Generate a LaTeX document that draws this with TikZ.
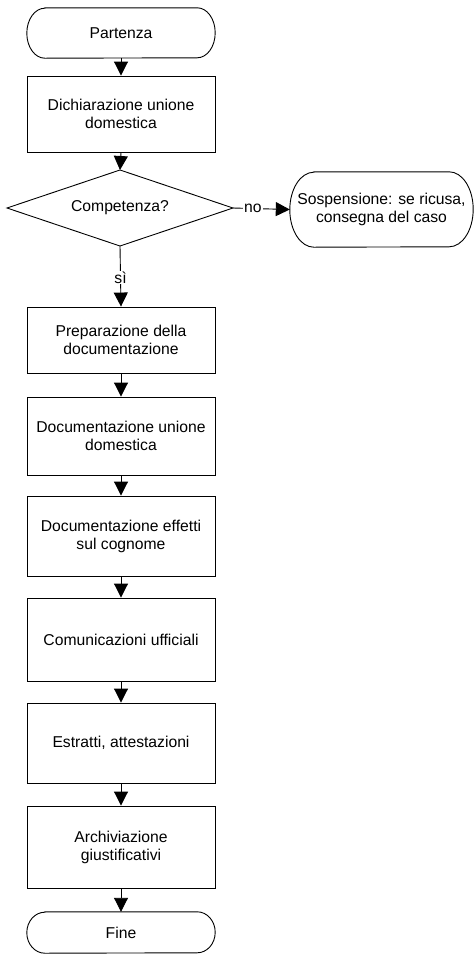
\documentclass[tikz,border=0pt]{standalone}
\usepackage{fontspec}
\setmainfont{Liberation Sans}
\usetikzlibrary{arrows.meta,shapes.geometric}
\newcommand{\termoutline}[3]{%
  \draw[edge] ([xshift=#2]#1.north west) -- ([xshift=-#2]#1.north east)
    arc[start angle=90,end angle=-90,x radius=#2,y radius=#3]
    -- ([xshift=#2]#1.south west)
    arc[start angle=270,end angle=90,x radius=#2,y radius=#3] -- cycle;}
\begin{document}
\begin{tikzpicture}[x=1pt,y=1pt,
  every node/.style={font=\fontsize{15.7}{18}\selectfont, align=center, inner sep=1pt},
  edge/.style={line width=0.9pt, draw=black},
  procbox/.style={draw=black, line width=0.9pt, rectangle, minimum width=188pt},
  termbox/.style={rectangle, minimum width=188pt},
  flow/.style={edge, -{Triangle[width=14pt,length=14pt]}},
  lbl/.style={fill=white, inner sep=1pt}
]
\useasboundingbox (0,0) rectangle (474,-954);
\node[termbox, minimum height=50pt] (start) at (121,-33) {Partenza};
\termoutline{start}{18pt}{25pt}
\node[procbox, minimum height=76pt] (dich) at (121,-114) {Dichiarazione unione\\domestica};
\coordinate (dT) at (120,-170);
\coordinate (dB) at (120,-246);
\coordinate (dL) at (7,-208);
\coordinate (dR) at (233,-208);
\draw[edge] (dT) -- (dR) -- (dB) -- (dL) -- cycle;
\node (comp) at (120,-208) {Competenza?};
\node[termbox, minimum width=183pt, minimum height=75pt] (susp) at (381.5,-209.5) {Sospensione: se ricusa,\\consegna del caso};
\termoutline{susp}{24pt}{37.5pt}
\node[procbox, minimum height=66pt] (prep) at (121,-340) {Preparazione della\\documentazione};
\node[procbox, minimum height=78pt] (docu) at (121,-436) {Documentazione unione\\domestica};
\node[procbox, minimum height=80pt] (doce) at (121,-536) {Documentazione effetti\\sul cognome};
\node[procbox, minimum height=83pt] (comu) at (121,-639.5) {Comunicazioni ufficiali};
\node[procbox, minimum height=80pt] (estr) at (121,-743) {Estratti, attestazioni};
\node[procbox, minimum height=82pt] (arch) at (121,-847) {Archiviazione\\giustificativi};
\node[termbox, minimum height=41pt] (fine) at (121,-932.5) {Fine};
\termoutline{fine}{18pt}{20.5pt}

\draw[flow] (start.south) -- (dich.north);
\draw[flow] (dich.south) -- (dT);
\draw[flow] (dR) -- (susp.west) node[lbl, pos=0.35] {no};
\draw[flow] (dB) -- (prep.north) node[lbl, pos=0.52] {sì};
\draw[flow] (prep.south) -- (docu.north);
\draw[flow] (docu.south) -- (doce.north);
\draw[flow] (doce.south) -- (comu.north);
\draw[flow] (comu.south) -- (estr.north);
\draw[flow] (estr.south) -- (arch.north);
\draw[flow] (arch.south) -- (fine.north);
\end{tikzpicture}
\end{document}
